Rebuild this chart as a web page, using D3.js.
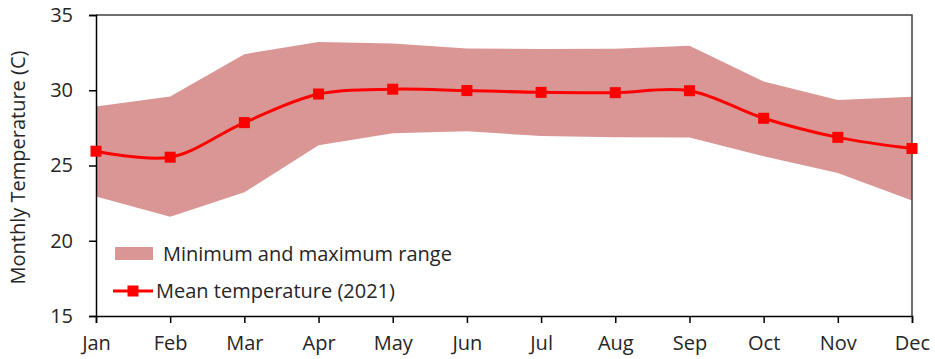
<!DOCTYPE html>
<html><head><meta charset="utf-8">
<script src="https://cdn.jsdelivr.net/npm/d3@7"></script>
<style>body{margin:0;background:#fff}svg{display:block}text{font-family:"Open Sans",sans-serif;fill:#262626}</style>
</head><body><svg id="c" width="935" height="359"></svg>
<script>
const months = ["Jan","Feb","Mar","Apr","May","Jun","Jul","Aug","Sep","Oct","Nov","Dec"];
const meanTemp = [25.95,25.55,27.85,29.75,30.07,29.98,29.86,29.84,29.97,28.14,26.87,26.13];
const maxTemp = [28.92,29.58,32.4,33.2,33.1,32.77,32.74,32.75,32.95,30.58,29.35,29.57];
const minTemp = [22.94,21.6,23.22,26.35,27.15,27.27,26.96,26.88,26.86,25.62,24.5,22.68];
const yTicks = [15,20,25,30,35];

const svg = d3.select("#c");
const L=96,R=912,T=15,B=316;
const FS=20;
const x = d3.scalePoint().domain(months).range([L,R]);
const y = d3.scaleLinear().domain([15,35]).range([B,T]);
const data = months.map((m,i)=>({m,mean:meanTemp[i],max:maxTemp[i],min:minTemp[i]}));

svg.append("path").datum(data)
  .attr("d", d3.area().x(d=>x(d.m)).y0(d=>y(d.min)).y1(d=>y(d.max)))
  .attr("fill","#d99694");

svg.append("path").attr("d",`M${L},${T}H${R}V${B}`).attr("fill","none").attr("stroke","#404040").attr("stroke-width",1.5);

const ya = svg.append("g").attr("transform",`translate(${L},0)`)
  .call(d3.axisLeft(y).tickValues(yTicks).tickSize(7).tickPadding(16));
const xa = svg.append("g").attr("transform",`translate(0,${B})`)
  .call(d3.axisBottom(x).tickSize(7).tickPadding(13));
[ya,xa].forEach(a=>{a.select(".domain").attr("stroke","#000").attr("stroke-width",1.5);
  a.selectAll(".tick line").attr("stroke","#000").attr("stroke-width",1.5);
  a.selectAll("text").style("font-family","'Open Sans',sans-serif").attr("font-size",FS).attr("fill","#262626");});

svg.append("path").datum(data)
  .attr("d", d3.line().x(d=>x(d.m)).y(d=>y(d.mean)).curve(d3.curveCatmullRom.alpha(0.5)))
  .attr("fill","none").attr("stroke","#ff0000").attr("stroke-width",3);
svg.selectAll("rect.mk").data(data).join("rect").attr("class","mk")
  .attr("x",d=>x(d.m)-5.5).attr("y",d=>y(d.mean)-5.5).attr("width",11).attr("height",11).attr("fill","#ff0000");

svg.append("text").attr("transform",`translate(25,${(T+B)/2+2}) rotate(-90)`)
  .attr("text-anchor","middle").attr("font-size",FS).text("Monthly Temperature  (C)");

// legend
svg.append("rect").attr("x",115).attr("y",247).attr("width",38).attr("height",13).attr("fill","#d99694");
svg.append("text").attr("x",163).attr("y",261).attr("font-size",FS).text("Minimum and maximum range");
svg.append("line").attr("x1",113).attr("x2",153).attr("y1",291).attr("y2",291).attr("stroke","#ff0000").attr("stroke-width",3);
svg.append("rect").attr("x",127.5).attr("y",285.5).attr("width",11).attr("height",11).attr("fill","#ff0000");
svg.append("text").attr("x",156).attr("y",298).attr("font-size",FS).text("Mean temperature (2021)");
</script></body></html>
